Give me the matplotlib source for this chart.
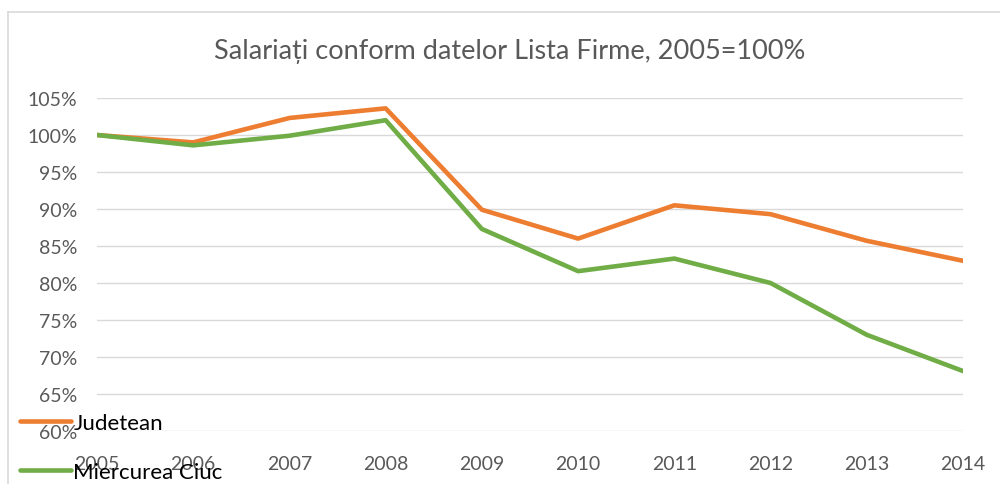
import matplotlib
matplotlib.use("Agg")
from matplotlib import pyplot as plt
from matplotlib.lines import Line2D
from matplotlib.ticker import FuncFormatter

years = [2005, 2006, 2007, 2008, 2009, 2010, 2011, 2012, 2013, 2014]
judetean = [100.0, 99.0, 102.3, 103.6, 89.9, 86.0, 90.5, 89.3, 85.7, 83.0]
miercurea = [100.0, 98.6, 99.9, 102.0, 87.3, 81.6, 83.3, 80.0, 73.0, 68.1]
labels = ["Judetean", "Miercurea Ciuc"]
yticks = [60, 65, 70, 75, 80, 85, 90, 95, 100, 105]

plt.rcParams['font.family'] = ['Lato', 'DejaVu Sans']
grey = "#595959"

fig = plt.figure(figsize=(10, 4.85), dpi=100)
# frame around the chart area (top and left edges visible)
fig.add_artist(Line2D([0.008, 1.0], [1 - 12.5 / 485, 1 - 12.5 / 485], transform=fig.transFigure,
                      color="#d9d9d9", lw=1.2))
fig.add_artist(Line2D([0.008, 0.008], [0.0, 1 - 12.5 / 485], transform=fig.transFigure,
                      color="#d9d9d9", lw=1.2))

ax = fig.add_axes([0.097, 53 / 485, 0.866, (432 - 99) / 485])
ax.plot(years, judetean, color="#ed7d31", lw=3.3, solid_capstyle="round", label=labels[0])
ax.plot(years, miercurea, color="#70ad47", lw=3.3, solid_capstyle="round", label=labels[1])

ax.set_xlim(2005, 2014)
ax.set_ylim(60, 105)
ax.set_xticks(years)
ax.set_yticks(yticks)
ax.yaxis.set_major_formatter(FuncFormatter(lambda v, p: "%d%%" % v))
ax.grid(axis="y", color="#d9d9d9", lw=1)
ax.set_axisbelow(True)
for s in ax.spines.values():
    s.set_visible(False)
ax.tick_params(length=0, colors=grey, labelsize=14)
ax.tick_params(axis="x", pad=17)
ax.tick_params(axis="y", pad=14)

fig.text(0.51, 1 - 52 / 485, "Salariați conform datelor Lista Firme, 2005=100%",
         ha="center", va="center", fontsize=19.5, color=grey)

fig.legend(loc="upper left", bbox_to_anchor=(0.02, 1 - 414 / 485), frameon=False,
           fontsize=16, handlelength=2.3, handletextpad=0.1, labelspacing=1.3,
           borderpad=0, borderaxespad=0)

fig.savefig("out.png", dpi=100, facecolor="white")
